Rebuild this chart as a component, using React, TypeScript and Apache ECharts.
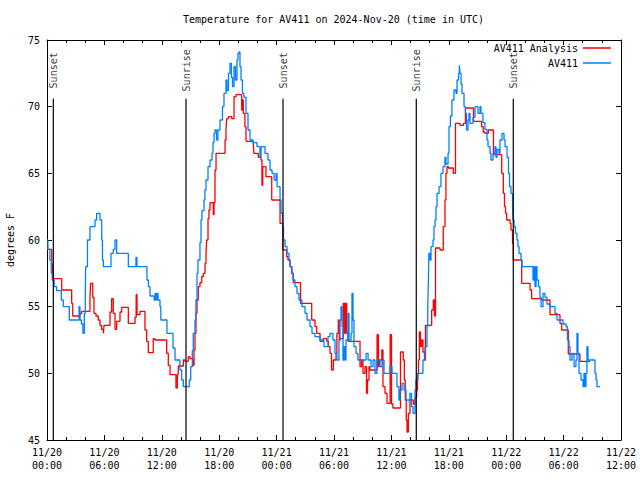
import React, { useEffect, useRef } from 'react';
import * as echarts from 'echarts';

const FONT = 'DejaVu Sans Mono';

const chartTitle = 'Temperature for AV411 on 2024-Nov-20 (time in UTC)';
const yAxisName = 'degrees F';
const xTickLabels = [
  '11/20\n00:00', '11/20\n06:00', '11/20\n12:00', '11/20\n18:00',
  '11/21\n00:00', '11/21\n06:00', '11/21\n12:00', '11/21\n18:00',
  '11/22\n00:00', '11/22\n06:00', '11/22\n12:00',
];

// hours since 11/20 00:00 UTC
const sunTimes = [0.66, 14.53, 24.67, 38.6, 48.74];
const sunNames = ['Sunset', 'Sunrise', 'Sunset', 'Sunrise', 'Sunset'];
const sunLineTop = 70.6;
const sunLabelY = 72.65;

const obsName = 'AV411';
const obsHours = [
  0, 0.1, 0.3, 0.45, 0.55, 0.75, 1.0, 1.5, 1.7, 2.33, 3.35, 3.45, 3.6, 3.75, 3.9, 4.0, 4.04, 4.23, 4.49,
  5.02, 5.19, 5.54, 5.72, 5.8, 5.89, 6.69, 6.93, 7.11, 7.28, 8.5, 9.3, 9.4, 10.45, 10.6, 10.77, 11.2,
  11.3, 11.4, 11.5, 11.6, 11.81, 11.9, 12.54, 13.17, 13.38, 13.9, 14.08, 14.25, 14.87, 15.02, 15.19,
  15.29, 15.47, 15.57, 15.68, 15.78, 15.99, 16.1, 16.2, 16.41, 16.5, 16.62, 16.83, 17.04, 17.25, 17.35,
  17.46, 17.56, 17.72, 17.87, 18.08, 18.34, 18.5, 18.71, 18.81, 18.97, 19.13, 19.28, 19.39, 19.55, 19.7,
  19.86, 19.96, 20.07, 20.17, 20.28, 20.43, 20.59, 20.8, 21.01, 21.22, 21.53, 21.95, 22.26, 22.37, 22.79,
  23.1, 23.31, 23.52, 23.74, 23.95, 24.05, 24.36, 24.46, 24.62, 24.72, 24.88, 25.09, 25.3, 25.4, 25.61,
  25.71, 25.92, 26.13, 26.34, 26.65, 26.97, 27.18, 27.49, 27.7, 28.01, 28.54, 28.95, 29.37, 29.58, 29.89,
  30.1, 30.31, 30.52, 30.63, 30.73, 30.84, 30.94, 31.05, 31.15, 31.25, 31.46, 31.57, 31.78, 31.88, 31.99,
  32.09, 32.3, 32.5, 33.35, 33.56, 33.87, 34.08, 34.28, 34.49, 34.81, 35.02, 35.23, 35.85, 36.06, 36.58,
  36.79, 36.9, 37.11, 37.32, 37.53, 37.94, 38.1, 38.26, 38.47, 38.57, 38.78, 39.3, 39.51, 39.72, 39.8,
  39.87, 39.92, 40.03, 40.14, 40.35, 40.45, 40.56, 40.66, 40.77, 40.98, 41.18, 41.39, 41.6, 41.7, 41.92,
  42.02, 42.17, 42.33, 42.54, 42.75, 42.86, 43.02, 43.1, 43.17, 43.28, 43.38, 43.59, 43.74, 43.85, 44.01,
  44.11, 44.22, 44.53, 44.74, 45.05, 45.26, 45.36, 45.57, 45.78, 45.99, 46.1, 46.31, 46.41, 46.62, 46.83,
  46.93, 47.04, 47.25, 47.35, 47.56, 47.77, 47.88, 48.09, 48.24, 48.35, 48.5, 48.66, 48.71, 48.82, 48.97,
  49.13, 49.23, 49.34, 49.55, 49.65, 50.8, 50.91, 51.01, 51.12, 51.22, 51.38, 51.53, 51.64, 51.85, 52.05,
  52.26, 52.58, 53.1, 53.31, 53.94, 54.25, 54.4, 54.56, 54.67, 54.88, 55.09, 55.29, 55.4, 55.5, 55.61,
  55.82, 56.03, 56.13, 56.23, 56.34, 56.44, 56.55, 57.28, 57.39, 57.49, 57.8,
];
const obsTemps = [
  60.0, 59.3, 58.5, 57.5, 57.0, 56.5, 56.2, 55.5, 55.0, 54.0, 55.0, 54.0, 53.7, 53.0, 54.5, 55.5, 58.0, 60.0, 61.0,
  61.5, 62.0, 61.5, 60.0, 58.5, 58.0, 59.0, 59.3, 60.0, 59.0, 58.0, 58.7, 58.0, 57.0, 56.5, 55.8, 55.5,
  56.0, 55.5, 56.0, 55.5, 55.0, 54.0, 53.0, 51.9, 51.0, 50.25, 49.5, 49.0, 49.5, 50.5, 51.7,
  53.0, 54.0, 55.5, 57.5, 58.5, 59.8, 61.5, 62.2, 63.0, 63.75, 64.5, 65.5, 66.0, 66.5, 67.3,
  68.0, 68.25, 67.5, 68.25, 69.0, 70.0, 71.0, 72.0, 71.2, 72.5, 73.25, 72.2, 71.5, 73.0, 72.0,
  73.5, 74.0, 74.1, 73.0, 72.0, 71.0, 70.7, 69.5, 68.25, 67.5, 67.3, 67.0, 66.2, 67.0, 66.5,
  66.0, 65.25, 65.0, 64.5, 65.0, 64.0, 63.0, 62.0, 61.0, 60.0, 59.5, 59.0, 58.5, 58.0, 57.5,
  57.0, 56.5, 56.0, 55.5, 55.0, 54.5, 54.0, 53.5, 53.0, 52.75, 52.5, 52.0, 52.75, 53.0, 52.5,
  51.5, 51.0, 52.5, 54.0, 55.0, 53.5, 51.0, 52.0, 51.0, 52.5, 54.5, 52.5, 53.0, 56.0, 54.0,
  52.0, 51.5, 51.0, 51.5, 51.0, 50.5, 51.0, 50.0, 51.0, 50.5, 51.0, 50.0, 50.5, 50.0, 49.0,
  48.0, 48.75, 49.25, 48.75, 48.0, 48.5, 47.5, 47.0, 48.75, 49.5, 50.0, 51.0, 52.0, 53.5, 55.0,
  57.0, 59.0, 58.5, 59.5, 60.0, 61.0, 61.5, 62.5, 63.5, 64.0, 65.0, 65.5, 66.2, 65.7, 66.5,
  68.5, 69.3, 70.5, 71.25, 71.0, 72.0, 72.5, 73.1, 72.5, 71.7, 71.0, 70.0, 69.5, 68.25, 69.0,
  69.5, 68.75, 69.2, 70.0, 69.5, 70.0, 69.5, 68.8, 68.3, 67.5, 67.0, 66.5, 66.0, 66.5, 67.0,
  66.2, 66.8, 66.5, 67.5, 68.0, 67.5, 67.0, 66.2, 65.0, 64.0, 63.5, 62.5, 61.5, 61.0, 60.5,
  60.0, 59.5, 59.0, 58.5, 58.0, 57.0, 58.0, 56.5, 58.0, 57.0, 56.5, 55.7, 55.0, 56.0, 55.7,
  55.2, 55.0, 54.5, 54.0, 53.7, 53.5, 52.5, 52.0, 51.0, 51.5, 50.5, 51.0, 53.0, 51.5, 50.0,
  49.5, 49.0, 50.0, 49.0, 50.0, 52.0, 51.0, 50.0, 49.5, 49.0, 49.0,
];

const anaName = 'AV411 Analysis';
const anaHours = [
  0, 0.5, 0.6, 1.54, 2.58, 2.69, 3.45, 3.63, 4.49, 4.56, 4.78, 4.91, 5.12, 5.36, 5.54, 5.7, 5.89, 5.96,
  6.59, 6.76, 6.93, 7.11, 7.28, 7.63, 7.81, 8.5, 9.2, 9.32, 9.41, 9.72, 10.24, 10.42, 10.59, 11.11, 11.29,
  12.51, 12.68, 12.86, 13.48, 13.62, 13.72, 14.25, 14.42, 14.77, 14.95, 15.23, 15.37, 15.47, 15.57, 15.68,
  15.81, 15.99, 16.17, 16.34, 16.52, 16.62, 16.69, 16.83, 16.93, 17.04, 17.38, 17.46, 17.56, 17.67, 18.61,
  18.71, 18.78, 18.95, 19.31, 19.55, 19.76, 20.35, 20.43, 20.52, 20.69, 20.8, 20.87, 21.56, 21.63, 22.08,
  22.37, 22.47, 22.55, 22.89, 23.49, 24.36, 24.64, 25.05, 25.19, 25.4, 25.56, 25.75, 26.5, 27.67, 28.01,
  28.19, 28.54, 28.88, 29.24, 29.42, 29.58, 29.74, 29.93, 30.21, 30.3, 30.45, 30.55, 30.63, 30.97, 31.1,
  31.2, 31.33, 31.46, 32.72, 32.88, 33.03, 33.24, 33.4, 33.5, 33.66, 33.76, 34.5, 34.64, 34.74, 35.0,
  35.12, 35.33, 35.54, 35.87, 36.01, 36.16, 36.95, 37.24, 37.35, 37.45, 37.55, 37.63, 37.77, 37.94, 38.29,
  38.47, 38.64, 38.73, 38.83, 38.92, 39.04, 39.16, 39.3, 39.46, 39.56, 40.21, 40.38, 40.5, 40.61, 41.08,
  41.42, 41.6, 41.7, 41.81, 41.95, 42.47, 42.7, 43.17, 43.54, 43.74, 44.58, 45.43, 45.6, 45.78, 46.13,
  46.67, 47.53, 47.7, 47.82, 47.93, 48.05, 48.4, 48.5, 48.66, 48.74, 49.62, 50.49, 50.66, 51.7, 52.58,
  53.62, 53.8, 54.49, 55.71, 56.76,
];
const anaTemps = [
  59.3, 58.2, 57.1, 56.25, 55.25, 54.3, 54.5, 54.65, 55.7, 56.75, 55.7, 54.5, 54.3, 54.0, 53.6, 53.3, 53.0, 53.6,
  54.6, 55.6, 54.5, 53.3, 53.9, 54.6, 54.95, 53.75, 54.2, 55.9, 54.4, 54.65, 53.25, 52.4, 51.55, 52.6, 52.5,
  51.5, 50.6, 49.9, 48.9, 49.9, 50.55, 51.0, 50.9, 51.25, 51.1, 50.6, 51.75, 53.0, 54.5, 55.5,
  56.5, 56.8, 57.25, 57.5, 58.25, 59.0, 60.0, 61.6, 62.25, 62.8, 61.9, 62.8, 65.25, 66.5, 67.5,
  68.25, 69.1, 69.25, 69.1, 70.75, 70.9, 69.75, 70.5, 69.5, 68.5, 67.5, 67.4, 67.25, 66.5, 66.2,
  66.0, 64.1, 65.5, 64.75, 63.0, 61.25, 59.25, 58.75, 58.5, 58.0, 57.5, 56.8, 55.25, 54.0, 53.5,
  53.0, 52.4, 52.6, 52.4, 52.0, 51.5, 50.25, 51.0, 51.5, 53.0, 54.0, 52.5, 52.6, 55.25, 53.0,
  55.25, 53.0, 52.4, 50.5, 51.0, 50.0, 50.5, 48.5, 49.5, 50.5, 50.25, 52.9, 50.5, 51.0, 51.75,
  49.0, 48.5, 47.75, 52.9, 47.7, 47.4, 51.6, 51.0, 49.5, 48.0, 46.5, 45.6, 47.0, 48.0, 47.7,
  48.2, 48.75, 50.0, 51.0, 53.1, 52.0, 52.5, 51.6, 51.0, 53.6, 54.75, 55.5, 54.3, 59.4, 59.25,
  61.0, 63.0, 65.0, 65.5, 65.4, 65.0, 68.75, 68.6, 68.75, 69.9, 68.9, 68.5, 68.1, 68.0, 68.25,
  66.4, 65.0, 63.5, 62.5, 62.0, 61.5, 61.25, 60.75, 59.75, 58.5, 56.75, 56.25, 55.6, 55.5, 54.4,
  53.75, 53.25, 51.45, 50.9, 50.9,
];

const RED = '#ff0000';
const BLUE = '#0080ff';

const txt = { fontFamily: FONT, fontSize: 10, color: '#000' };

function axisCommon(showLabels: boolean) {
  return {
    axisLine: { show: true, onZero: false, lineStyle: { color: '#000', width: 1 } },
    axisTick: { show: true, inside: true, length: 5, lineStyle: { color: '#000', width: 1 } },
    splitLine: { show: false },
    minorSplitLine: { show: false },
    axisLabel: { show: showLabels, ...txt },
  };
}

export default function App() {
  const ref = useRef<HTMLDivElement>(null);
  useEffect(() => {
    if (!ref.current) return;
    const chart = echarts.init(ref.current, null, { renderer: 'svg' });
    const xBase = (showLabels: boolean, position: string) => {
      const c: any = axisCommon(showLabels);
      return {
        type: 'value', position, min: 0, max: 60, interval: 6,
        ...c,
        minorTick: { show: true, splitNumber: 3, length: 3, lineStyle: { color: '#000', width: 1 } },
        axisLabel: {
          ...c.axisLabel, margin: 6, lineHeight: 13, align: 'center',
          formatter: (v: number) => xTickLabels[Math.round(v / 6)] ?? '',
        },
      };
    };
    const yBase = (showLabels: boolean, position: string) => {
      const c: any = axisCommon(showLabels);
      return {
        type: 'value', position, min: 45, max: 75, interval: 5,
        ...c,
        axisLabel: { ...c.axisLabel, margin: 7 },
      };
    };
    const legendCommon = {
      orient: 'horizontal', align: 'right', icon: 'rect', itemWidth: 28, itemHeight: 1.5,
      itemGap: 0, padding: 0, selectedMode: false, textStyle: { ...txt },
    };
    chart.setOption({
      animation: false,
      backgroundColor: '#ffffff',
      title: {
        text: chartTitle, left: 183, top: 14, padding: 0,
        textStyle: { ...txt, fontWeight: 'normal' },
      },
      legend: [
        { ...legendCommon, data: [anaName], right: 29, top: 43 },
        { ...legendCommon, data: [obsName], right: 29, top: 58 },
      ],
      grid: { left: 47, right: 19, top: 40, bottom: 40, containLabel: false, outerBoundsMode: 'none' },
      xAxis: [xBase(true, 'bottom'), xBase(false, 'top')],
      yAxis: [
        { ...yBase(true, 'left'), name: yAxisName, nameLocation: 'middle', nameGap: 32, nameRotate: 90, nameTextStyle: { ...txt } },
        yBase(false, 'right'),
      ],
      series: [
        {
          name: anaName, type: 'line', step: 'end', showSymbol: false, symbol: 'none',
          xAxisIndex: 0, yAxisIndex: 0,
          data: anaHours.map((h, i) => [h, anaTemps[i]]),
          lineStyle: { color: RED, width: 1.3 }, itemStyle: { color: RED },
        },
        {
          name: obsName, type: 'line', step: 'end', showSymbol: false, symbol: 'none',
          xAxisIndex: 0, yAxisIndex: 0,
          data: obsHours.map((h, i) => [h, obsTemps[i]]),
          lineStyle: { color: BLUE, width: 1.3 }, itemStyle: { color: BLUE },
        },
        ...sunTimes.map((t, i) => ({
          name: 'sun' + i, type: 'line', showSymbol: false, symbol: 'none', silent: true,
          xAxisIndex: 0, yAxisIndex: 0,
          data: [[t, 45], [t, sunLineTop]],
          lineStyle: { color: '#000', width: 1.2 }, itemStyle: { color: '#000' },
        })),
        {
          name: 'sunLabels', type: 'scatter', symbolSize: 0, silent: true,
          xAxisIndex: 0, yAxisIndex: 0,
          data: sunTimes.map((t, i) => ({ value: [t, sunLabelY], name: sunNames[i] })),
          label: {
            show: true, formatter: '{b}', position: 'inside', rotate: 90,
            align: 'center', verticalAlign: 'middle', offset: [1, 0], ...txt,
            textBorderWidth: 0, textBorderColor: 'transparent',
          },
        },
      ],
    });
    return () => chart.dispose();
  }, []);
  return (
    <div
      ref={ref}
      style={{ position: 'fixed', left: 0, top: 0, width: 640, height: 480, background: '#fff' }}
    />
  );
}
